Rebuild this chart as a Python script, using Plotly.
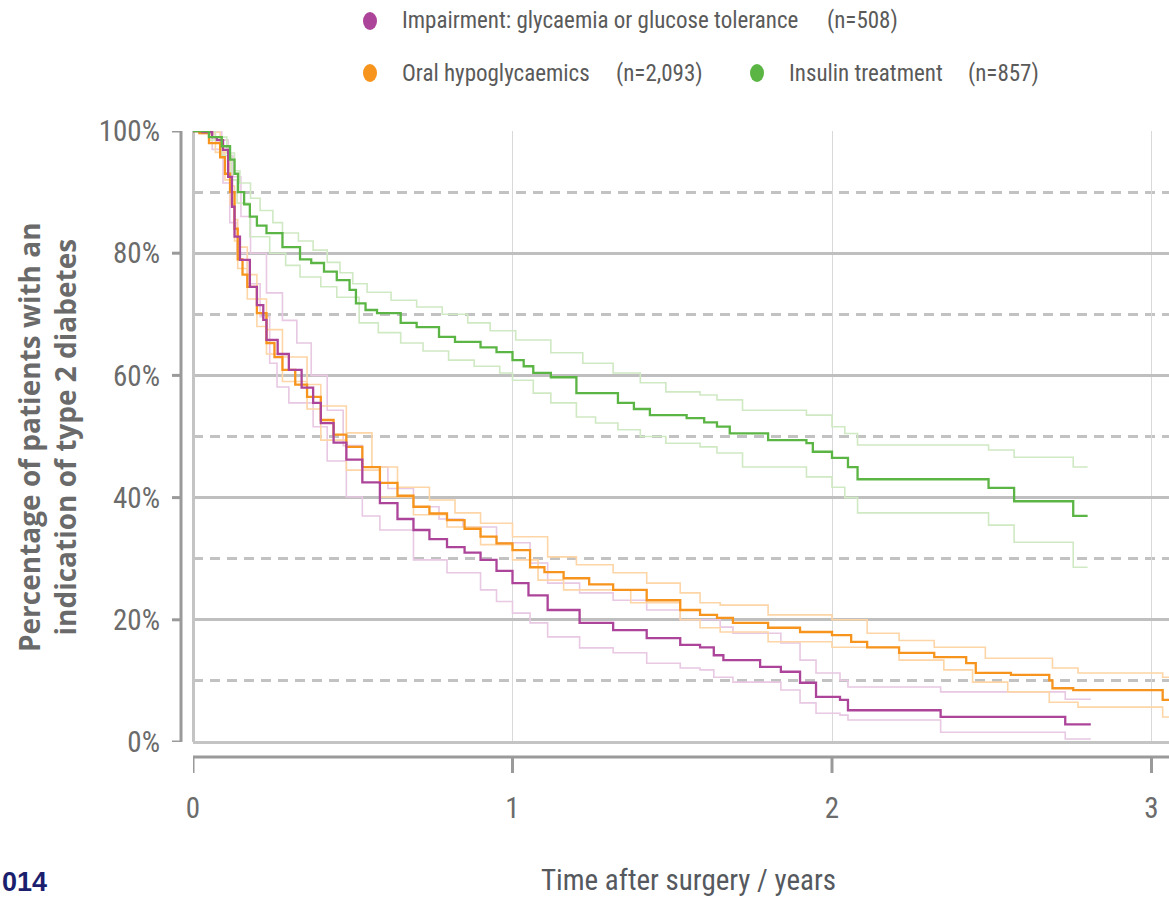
import plotly.graph_objects as go

# ---------------- data (time in years, % of patients) ----------------
impairment = [(0,100),(0.03,99.8),(0.06,99),(0.075,98.5),(0.094,96.9),(0.11,92.5),(0.122,87.6),(0.13,82.7),
              (0.147,78.9),(0.178,74.5),(0.20,71.5),(0.22,69.1),(0.23,65.8),(0.265,63.5),(0.30,60.9),(0.34,58),
              (0.376,55.5),(0.40,52.2),(0.44,49),(0.48,46.2),(0.53,42.5),(0.585,39.1),(0.64,36.5),(0.69,34.7),
              (0.74,33.2),(0.795,31.9),(0.85,31),(0.90,29.8),(0.95,28),(1.0,26.0),(1.05,24),(1.11,21.6),
              (1.21,19.5),(1.315,18.3),(1.42,17.0),(1.525,15.9),(1.587,15.5),(1.63,14.2),(1.66,13.4),
              (1.775,12.3),(1.84,11.5),(1.90,9.7),(1.95,7.4),(2.025,6.9),(2.05,5.2),(2.34,4.1),(2.73,2.9),(2.81,2.9)]
impairment_hi = [(0,100),(0.04,100),(0.09,98.5),(0.11,96),(0.125,92.5),(0.15,86),(0.18,80),(0.23,73.5),(0.28,69),
                 (0.325,65.3),(0.37,60),(0.42,54.3),(0.47,48.5),(0.53,45.0),(0.61,41.5),(0.69,38.5),(0.77,36.5),
                 (0.845,35.2),(0.95,32.6),(1.055,29.3),(1.11,26.0),(1.21,24.4),(1.315,23.2),(1.42,21.6),
                 (1.525,20.0),(1.65,18.8),(1.69,17.8),(1.84,16.2),(1.90,13.4),(1.95,11.3),(2.025,10.1),
                 (2.05,9.0),(2.34,8.2),(2.73,7.0),(2.81,7.0)]
impairment_lo = [(0,100),(0.02,99.5),(0.06,97),(0.094,91.5),(0.115,85),(0.138,80.0),(0.17,75),(0.21,69.6),
                 (0.24,62),(0.263,58.1),(0.30,55.5),(0.376,51.6),(0.42,46),(0.48,40.1),(0.53,37),(0.585,34.7),
                 (0.69,29.8),(0.795,27.7),(0.90,24.9),(0.95,23),(1.0,21.1),(1.055,19.5),(1.11,17.2),(1.21,15.4),
                 (1.315,14.6),(1.42,12.9),(1.525,12.1),(1.587,11.8),(1.63,10.6),(1.69,9.8),(1.84,8.5),(1.90,6.4),
                 (1.95,4.7),(2.025,4.4),(2.05,3.6),(2.34,1.6),(2.73,0.5),(2.81,0.5)]

oral = [(0,100),(0.02,99.7),(0.05,98),(0.085,95.7),(0.10,93),(0.116,90),(0.13,84),(0.14,79),(0.155,76.5),
        (0.17,74.5),(0.20,70.2),(0.23,65.3),(0.255,63),(0.28,60.9),(0.32,58.5),(0.357,56.5),(0.40,52.7),
        (0.44,50.3),(0.48,48.3),(0.53,45),(0.585,42.4),(0.64,40.3),(0.69,38.5),(0.74,37.4),(0.795,36.3),
        (0.85,34.9),(0.90,33.6),(0.95,32.5),(1.0,31.4),(1.055,28.6),(1.10,27.8),(1.16,26.8),(1.24,25.8),
        (1.315,24.9),(1.42,23.2),(1.525,21.6),(1.587,20.8),(1.64,20.3),(1.69,19.5),(1.80,18.7),(1.90,18.0),
        (2.0,17.5),(2.06,16.4),(2.11,15.5),(2.21,14.6),(2.32,13.9),(2.42,12.9),(2.45,11.3),(2.56,11.0),
        (2.68,10.1),(2.69,8.8),(2.755,8.5),(3.035,6.9),(3.06,6.9)]
oral_hi = [(0,100),(0.03,99.8),(0.085,96.5),(0.116,91),(0.13,85.5),(0.14,81),(0.17,76.5),(0.20,72.5),(0.23,67.5),
           (0.28,63),(0.357,58.5),(0.40,55),(0.48,50.6),(0.56,45),(0.64,41.7),(0.74,39.6),(0.82,37.5),(0.90,35.8),
           (1.0,33.6),(1.11,30.3),(1.20,29),(1.315,27.7),(1.42,26),(1.525,24.4),(1.587,22.8),(1.65,22.4),
           (1.80,20.8),(2.0,20.0),(2.11,17.8),(2.21,16.6),(2.32,15.5),(2.48,13.7),(2.69,12.1),(2.77,11.3),
           (3.035,10.6),(3.06,10.6)]
oral_lo = [(0,100),(0.02,99.5),(0.07,96.5),(0.10,92),(0.116,88),(0.13,82),(0.14,77.5),(0.17,72.5),(0.20,68),
           (0.23,63.5),(0.28,59),(0.357,54.5),(0.40,49.4),(0.48,44.5),(0.585,40.1),(0.69,37.2),(0.795,35.2),
           (0.90,32.3),(1.0,29.8),(1.08,26.5),(1.16,24.9),(1.37,22.8),(1.525,20.0),(1.587,18.7),(1.65,18.0),
           (1.80,16.4),(2.0,15.5),(2.21,13.4),(2.35,11.8),(2.44,9.8),(2.55,8.2),(2.68,6.5),(2.77,5.7),
           (3.035,4.1),(3.06,4.1)]

insulin = [(0,100),(0.05,99),(0.09,97.5),(0.116,95.3),(0.13,93),(0.141,90),(0.16,88),(0.178,86),(0.20,84.5),
           (0.23,83.3),(0.28,81),(0.335,79),(0.37,78.4),(0.41,77),(0.45,75.6),(0.49,74),(0.51,71.8),(0.54,70.7),
           (0.576,70.2),(0.65,68.6),(0.70,67.9),(0.77,66.3),(0.82,65.5),(0.90,64.6),(0.95,63.8),(1.0,62.5),
           (1.035,61.5),(1.065,60.4),(1.12,59.7),(1.20,57.1),(1.33,55.5),(1.38,54.5),(1.43,53.5),(1.545,53.0),
           (1.60,52.3),(1.64,51.6),(1.68,50.5),(1.80,49.4),(1.92,48.9),(1.94,47.5),(2.00,46.5),(2.05,45.0),
           (2.08,43.0),(2.49,41.6),(2.57,39.4),(2.755,37.0),(2.80,37.0)]
insulin_hi = [(0,100),(0.07,99),(0.106,96.4),(0.13,93.5),(0.147,91.5),(0.18,89),(0.21,87),(0.25,85),(0.28,83.3),
              (0.33,82),(0.376,80.5),(0.42,78.5),(0.46,76.8),(0.50,75),(0.545,73.6),(0.62,72.3),(0.70,71.2),
              (0.78,70),(0.86,68.6),(0.93,67.3),(1.01,65.8),(1.12,63.7),(1.22,62),(1.315,60.4),(1.40,58.8),
              (1.48,57.3),(1.587,56.8),(1.64,56.0),(1.72,54.3),(1.92,53.5),(2.0,51.6),(2.04,50.5),(2.08,48.6),
              (2.49,47.8),(2.57,46.6),(2.755,45.0),(2.80,45.0)]
insulin_lo = [(0,100),(0.05,98.5),(0.09,96),(0.12,92),(0.138,88.2),(0.178,82.7),(0.24,80.0),(0.29,78),(0.335,76.1),
              (0.40,74.5),(0.45,72.8),(0.52,68.6),(0.58,67),(0.65,65.3),(0.72,64),(0.80,62.5),(0.88,61.5),
              (0.96,60.4),(1.0,59.2),(1.065,57.1),(1.12,55.5),(1.20,53.2),(1.26,52.2),(1.33,51.1),(1.40,50),
              (1.48,48.9),(1.587,48.3),(1.64,47.3),(1.72,45.0),(1.92,43.4),(2.0,41.7),(2.04,40),(2.08,37.5),
              (2.49,35.5),(2.57,32.7),(2.755,28.6),(2.80,28.6)]

series_names = ["Impairment: glycaemia or glucose tolerance", "Oral hypoglycaemics", "Insulin treatment"]
series_n = ["(n=508)", "(n=2,093)", "(n=857)"]
y_ticks = [0, 20, 40, 60, 80, 100]
y_tick_text = ["0%", "20%", "40%", "60%", "80%", "100%"]
x_ticks = [0, 1, 2, 3]

# ---------------- styles ----------------
C_PURPLE, C_PURPLE_L = "#ac449a", "#e8c8e2"
C_ORANGE, C_ORANGE_L = "#f7941d", "#fdd5a6"
C_GREEN, C_GREEN_L = "#5bb544", "#cfe9c3"
NARROW = "Liberation Sans Narrow, Arial Narrow, Roboto Condensed, Roboto, sans-serif"

fig = go.Figure()

def add_curve(data, color, width):
    t, s = zip(*data)
    fig.add_trace(go.Scatter(x=list(t), y=list(s), mode="lines", line=dict(color=color, width=width, shape="hv"),
                             showlegend=False, hoverinfo="skip"))

for d, c in [(impairment_hi, C_PURPLE_L), (impairment_lo, C_PURPLE_L), (oral_hi, C_ORANGE_L), (oral_lo, C_ORANGE_L),
             (insulin_hi, C_GREEN_L), (insulin_lo, C_GREEN_L)]:
    add_curve(d, c, 1.6)
for d, c in [(oral, C_ORANGE), (impairment, C_PURPLE), (insulin, C_GREEN)]:
    add_curve(d, c, 2.3)

X_MAX = (1169 - 193) / 319.5
fig.update_layout(
    width=1169, height=899,
    margin=dict(l=193, r=0, t=131, b=157),
    paper_bgcolor="white", plot_bgcolor="white",
    showlegend=False,
    xaxis=dict(range=[0, X_MAX], tickvals=x_ticks, ticktext=[str(v) for v in x_ticks],
               showgrid=True, gridcolor="#d9d9d9", gridwidth=1,
               zeroline=True, zerolinecolor="#c4c4c4", zerolinewidth=3,
               showline=False, ticks="", ticklabelstandoff=46,
               tickfont=dict(family=NARROW, size=29, color="#6b6b6b")),
    yaxis=dict(range=[0, 100], tickvals=y_ticks, ticktext=y_tick_text,
               showgrid=True, gridcolor="#bfbfbf", gridwidth=3,
               minor=dict(dtick=10, tick0=0, showgrid=True, gridcolor="#c2c2c2", gridwidth=3, griddash="10px,7px"),
               zeroline=True, zerolinecolor="#c4c4c4", zerolinewidth=3,
               showline=False, ticks="", ticklabelstandoff=32,
               tickfont=dict(family=NARROW, size=29, color="#6b6b6b")),
)

# offset axis lines and ticks
AX_COL = "#9a9a9a"
y_axis_x = -12 / 976
fig.add_shape(type="line", xref="paper", yref="paper", x0=y_axis_x, x1=y_axis_x, y0=0, y1=1,
              line=dict(color=AX_COL, width=3))
for v in y_ticks:
    fig.add_shape(type="line", xref="paper", yref="y", x0=-21 / 976, x1=y_axis_x, y0=v, y1=v,
                  line=dict(color=AX_COL, width=3))
x_axis_y = -15 / 611
fig.add_shape(type="line", xref="paper", yref="paper", x0=0, x1=1, y0=x_axis_y, y1=x_axis_y,
              line=dict(color=AX_COL, width=3))
for v in x_ticks:
    fig.add_shape(type="line", xref="x", yref="paper", x0=v, x1=v, y0=x_axis_y, y1=-31 / 611,
                  line=dict(color=AX_COL, width=3))

# axis titles
fig.add_annotation(xref="paper", yref="paper", x=(688 - 193) / 976, y=(742 - 880) / 611,
                   text="Time after surgery / years", showarrow=False,
                   font=dict(family=NARROW, size=29, color="#55595e"), xanchor="center", yanchor="middle")
fig.add_annotation(xref="paper", yref="paper", x=(47 - 193) / 976, y=(742 - 437) / 611,
                   text="Percentage of patients with an<br>indication of type 2 diabetes", showarrow=False,
                   textangle=-90, font=dict(family="Open Sans", size=28, color="#6a6a6a", weight="bold"),
                   xanchor="center", yanchor="middle")

# legend (manual)
legend_items = [
    (series_names[0], series_n[0], C_PURPLE, 370, 400, 825, 21),
    (series_names[1], series_n[1], C_ORANGE, 370, 400, 614, 73),
    (series_names[2], series_n[2], C_GREEN, 757, 787, 966, 73),
]
for name, n, col, dot_x, tx, nx, py in legend_items:
    fig.add_shape(type="circle", xref="paper", yref="paper",
                  x0=(dot_x - 7 - 193) / 976, x1=(dot_x + 7 - 193) / 976,
                  y0=(742 - py - 9) / 611, y1=(742 - py + 9) / 611,
                  fillcolor=col, line=dict(width=0))
    fig.add_annotation(xref="paper", yref="paper", x=(tx - 193) / 976, y=(742 - py) / 611, text=name,
                       showarrow=False, xanchor="left", yanchor="middle",
                       font=dict(family=NARROW, size=23, color="#5a5a5a"))
    fig.add_annotation(xref="paper", yref="paper", x=(nx - 193) / 976, y=(742 - py) / 611, text=n,
                       showarrow=False, xanchor="left", yanchor="middle",
                       font=dict(family=NARROW, size=23, color="#5a5a5a"))

# year fragment at bottom-left
fig.add_annotation(xref="paper", yref="paper", x=(0 - 193) / 976, y=(742 - 899) / 611, text="014",
                   showarrow=False, xanchor="left", yanchor="bottom",
                   font=dict(family="Liberation Sans", size=27, color="#1b1f6e", weight="bold"))

fig.write_html("out.html")
